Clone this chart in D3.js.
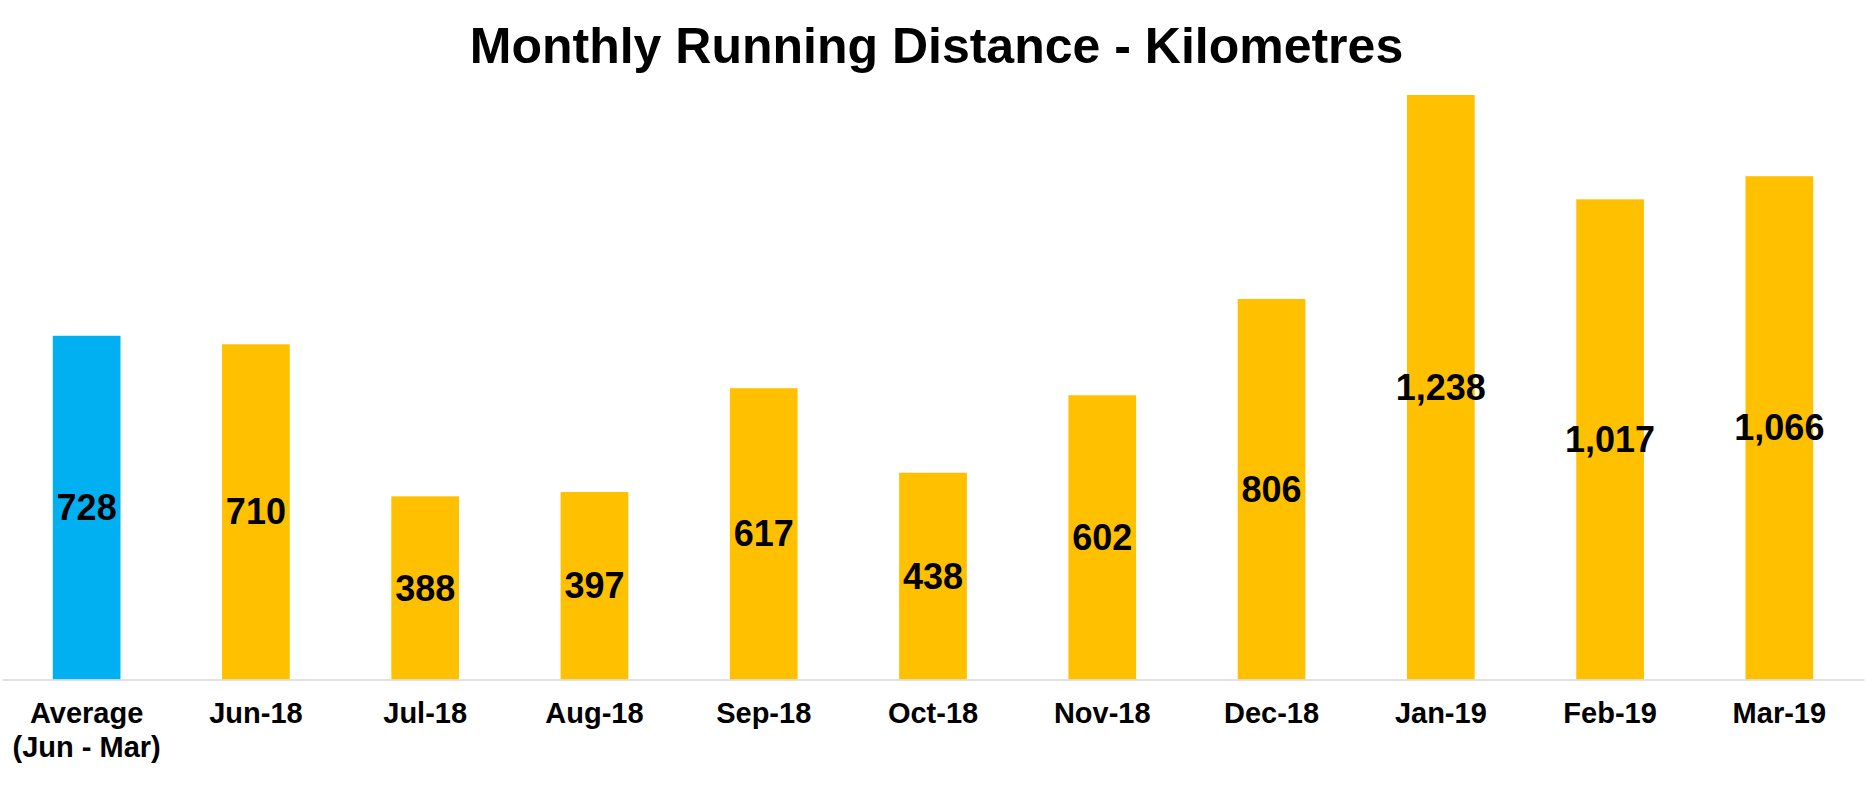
<!DOCTYPE html>
<html>
<head>
<meta charset="utf-8">
<script src="https://cdn.jsdelivr.net/npm/d3@7"></script>
<style>
  html, body { margin: 0; padding: 0; background: #fff; }
  svg { display: block; font-family: "Liberation Sans", Arial, sans-serif; }
</style>
</head>
<body>
<div id="chart"></div>
<script>
// Monthly running distance (km), first bar is the period average
const categories = ["Average\n(Jun - Mar)", "Jun-18", "Jul-18", "Aug-18", "Sep-18", "Oct-18", "Nov-18", "Dec-18", "Jan-19", "Feb-19", "Mar-19"];
const distances = [728, 710, 388, 397, 617, 438, 602, 806, 1238, 1017, 1066];
const barKinds = ["average", "month", "month", "month", "month", "month", "month", "month", "month", "month", "month"];
const yMax = 1400;

const width = 1873, height = 791;
const axisY = 679.5;

const data = categories.map((c, i) => ({ cat: c, value: distances[i], kind: barKinds[i] }));

const color = d3.scaleOrdinal()
  .domain(["average", "month"])
  .range(["#00B0F0", "#FFC000"]);

const x = d3.scaleBand()
  .domain(categories)
  .range([2, 1864])
  .paddingInner(0.6)
  .paddingOuter(0.3);

const y = d3.scaleLinear()
  .domain([0, yMax])
  .range([axisY, 18.5]);

const svg = d3.select('#chart').append('svg')
  .attr('width', width)
  .attr('height', height);

svg.append('text')
  .attr('x', width / 2)
  .attr('y', 62.5)
  .attr('text-anchor', 'middle')
  .style('font-size', '50px')
  .style('font-weight', 'bold')
  .text('Monthly Running Distance - Kilometres');

svg.selectAll('rect.bar')
  .data(data).enter().append('rect')
  .attr('class', 'bar')
  .attr('x', d => x(d.cat))
  .attr('width', x.bandwidth())
  .attr('y', d => y(d.value))
  .attr('height', d => y(0) - y(d.value))
  .attr('fill', d => color(d.kind));

const fmt = d3.format(',');
svg.selectAll('text.val')
  .data(data).enter().append('text')
  .attr('class', 'val')
  .attr('x', d => x(d.cat) + x.bandwidth() / 2)
  .attr('y', d => (y(d.value) + y(0)) / 2)
  .attr('dy', '0.35em')
  .attr('text-anchor', 'middle')
  .style('font-size', '36px')
  .style('font-weight', 'bold')
  .text(d => fmt(d.value));

const xAxis = d3.axisBottom(x)
  .tickSize(0)
  .tickSizeOuter(0)
  .tickPadding(22.5);

const gx = svg.append('g')
  .attr('transform', `translate(0,${axisY})`)
  .call(xAxis);

gx.select('.domain')
  .attr('stroke', '#D9D9D9')
  .attr('stroke-width', 1.5);

gx.selectAll('.tick text')
  .style('font-size', '29px')
  .style('font-weight', 'bold')
  .style('font-family', '"Liberation Sans", Arial, sans-serif')
  .attr('fill', '#000')
  .each(function(d) {
    const lines = d.split('\n');
    const t = d3.select(this).text(null);
    lines.forEach((line, i) => {
      t.append('tspan')
        .attr('x', 0)
        .attr('dy', i === 0 ? null : '34.3px')
        .text(line);
    });
  });
</script>
</body>
</html>
